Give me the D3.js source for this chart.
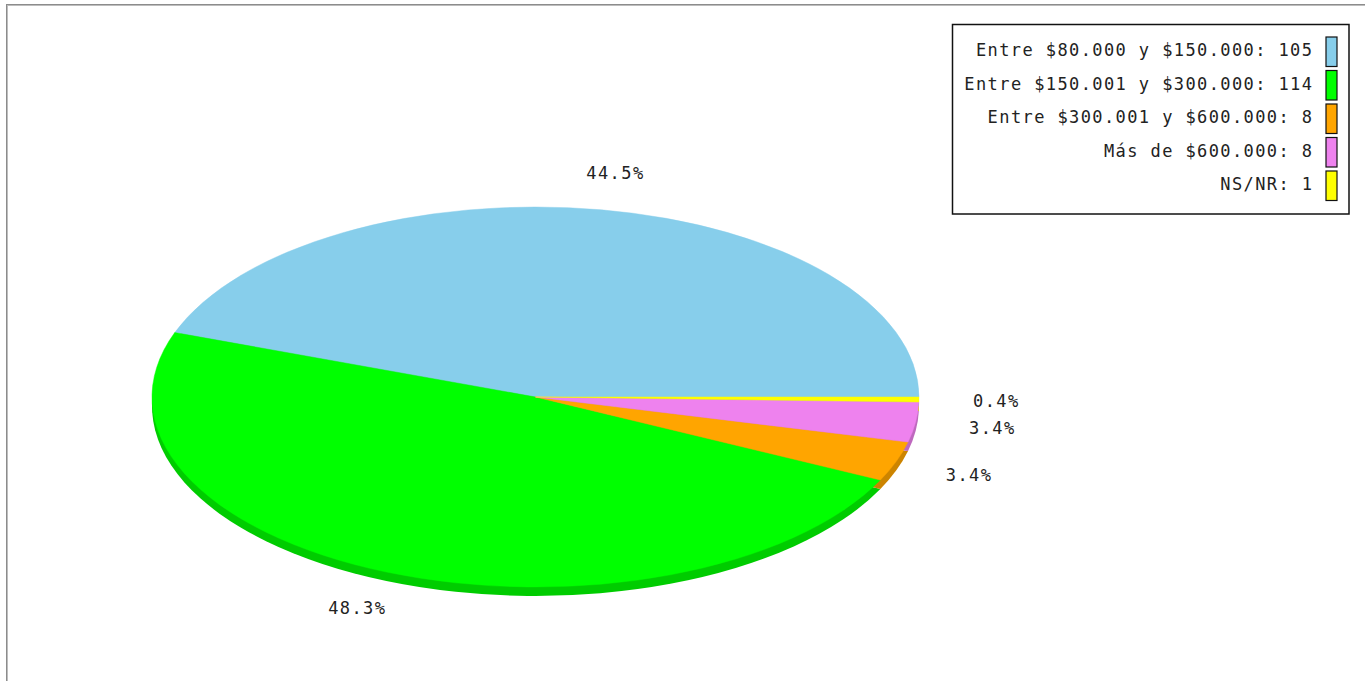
<!DOCTYPE html>
<html>
<head>
<meta charset="utf-8">
<script src="https://cdn.jsdelivr.net/npm/d3@7"></script>
<style>
html,body{margin:0;padding:0;background:#fff;overflow:hidden;}
svg{display:block;}
text{font-family:"DejaVu Sans Mono",monospace;font-size:17px;fill:#222;}
</style>
</head>
<body>
<svg id="chart" width="1365" height="681"></svg>
<script>
const categories = ["Entre $80.000 y $150.000", "Entre $150.001 y $300.000", "Entre $300.001 y $600.000", "Más de $600.000", "NS/NR"];
const values = [105, 114, 8, 8, 1];
const colors = ["#87ceeb", "#00ff00", "#ffa500", "#ee82ee", "#ffff00"];

const W = 1365, H = 681;
const svg = d3.select("#chart");
const LS = 1.4;

// frame
svg.append("line").attr("x1", 6).attr("x2", W).attr("y1", 4.5).attr("y2", 4.5).attr("stroke", "#8c8c8c").attr("stroke-width", 1);
svg.append("line").attr("x1", 7).attr("x2", W).attr("y1", 5.5).attr("y2", 5.5).attr("stroke", "#bdbdbd").attr("stroke-width", 1);
svg.append("line").attr("x1", 6.5).attr("x2", 6.5).attr("y1", 4).attr("y2", H).attr("stroke", "#8c8c8c").attr("stroke-width", 1);
svg.append("line").attr("x1", 7.5).attr("x2", 7.5).attr("y1", 5).attr("y2", H).attr("stroke", "#bdbdbd").attr("stroke-width", 1);

const cx = 535.5, cy = 397, rx = 383.5, ry = 190, depth = 9;
const total = d3.sum(values);
const data = categories.map((c, i) => ({cat: c, value: values[i], color: colors[i]}));

const pie = d3.pie().sort(null).value(d => d.value)
  .startAngle(Math.PI / 2).endAngle(Math.PI / 2 - 2 * Math.PI);
const arcs = pie(data);
const arc = d3.arc().innerRadius(0).outerRadius(rx);

function shade(c) {
  const k = d3.rgb(c);
  return d3.rgb(k.r * 0.8, k.g * 0.8, k.b * 0.8).formatHex();
}

// depth (side) layer
const sideG = svg.append("g").attr("transform", `translate(${cx},${cy + depth}) scale(1,${ry / rx})`);
sideG.selectAll("path").data(arcs).join("path")
  .attr("d", arc).attr("fill", d => shade(d.data.color));
// top surface
const topG = svg.append("g").attr("transform", `translate(${cx},${cy}) scale(1,${ry / rx})`);
topG.selectAll("path").data(arcs).join("path")
  .attr("d", arc).attr("fill", d => d.data.color)
  .attr("stroke", d => d.data.color).attr("stroke-width", 0.6);

// labels
const fmt = v => (v / total * 100).toFixed(1) + "%";
const lf = 1.2;
svg.append("g").selectAll("text").data(arcs).join("text")
  .attr("x", d => {
    const a = (d.startAngle + d.endAngle) / 2;
    return cx + rx * lf * Math.sin(a) + LS / 2;
  })
  .attr("y", d => {
    const a = (d.startAngle + d.endAngle) / 2;
    return cy - ry * lf * Math.cos(a) + 6.5;
  })
  .attr("text-anchor", "middle")
  .attr("letter-spacing", LS)
  .text(d => fmt(d.data.value));

// legend
const lg = svg.append("g");
lg.append("rect").attr("x", 952.5).attr("y", 24.5).attr("width", 396.5).attr("height", 189.5)
  .attr("fill", "#fff").attr("stroke", "#111").attr("stroke-width", 1.5);
const rowY = d3.scalePoint().domain(categories).range([37, 171]);
const items = lg.selectAll("g.item").data(data).join("g").attr("class", "item");
items.append("rect").attr("x", 1326).attr("y", d => rowY(d.cat)).attr("width", 11).attr("height", 29.5)
  .attr("fill", d => d.color).attr("stroke", "#111").attr("stroke-width", 1.2);
items.append("text").attr("x", 1312 + LS).attr("y", d => rowY(d.cat) + 19)
  .attr("text-anchor", "end").attr("letter-spacing", LS)
  .text(d => `${d.cat}: ${d.value}`);
</script>
</body>
</html>
